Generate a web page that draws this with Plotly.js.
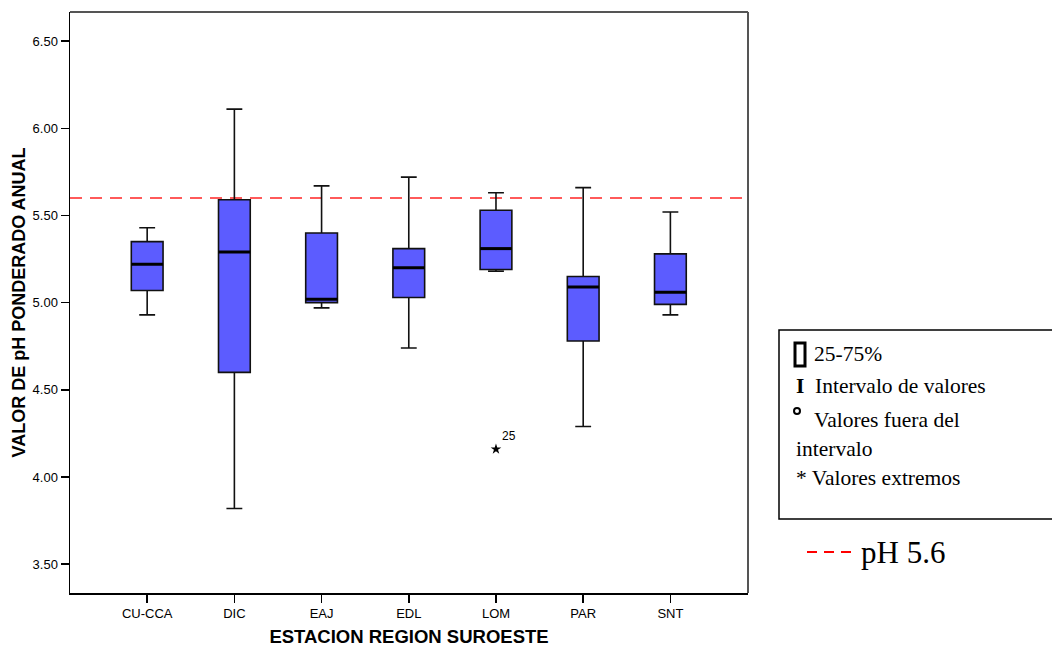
<!DOCTYPE html>
<html>
<head>
<meta charset="utf-8">
<script src="https://cdn.plot.ly/plotly-3.0.1.min.js"></script>
<style>html,body{margin:0;padding:0;background:#fff;}#chart{width:1052px;height:647px;}</style>
</head>
<body>
<div id="chart"></div>
<script>
// Data
const stations = ["CU-CCA", "DIC", "EAJ", "EDL", "LOM", "PAR", "SNT"];
const lowerWhisker = [4.93, 3.82, 4.97, 4.74, 5.18, 4.29, 4.93];
const q1Values     = [5.07, 4.60, 5.00, 5.03, 5.19, 4.78, 4.99];
const medianValues = [5.22, 5.29, 5.02, 5.20, 5.31, 5.09, 5.06];
const q3Values     = [5.35, 5.59, 5.40, 5.31, 5.53, 5.15, 5.28];
const upperWhisker = [5.43, 6.11, 5.67, 5.72, 5.63, 5.66, 5.52];
const extremeStation = ["LOM"];
const extremeValue = [4.16];
const extremeLabel = ["25"];
const referencePH = 5.6;

const idx = stations.map((s, i) => i);
const boxWidth = 0.364;

// median overlay segments (thicker median line)
const medX = [], medY = [];
idx.forEach(i => {
  medX.push(i - boxWidth / 2, i + boxWidth / 2, null);
  medY.push(medianValues[i], medianValues[i], null);
});

const traces = [
  {
    type: "box",
    x: idx,
    q1: q1Values,
    median: medianValues,
    q3: q3Values,
    lowerfence: lowerWhisker,
    upperfence: upperWhisker,
    width: boxWidth,
    whiskerwidth: 0.5,
    boxpoints: false,
    fillcolor: "#5c5cff",
    line: { color: "#111111", width: 1.6 },
    hoverinfo: "skip",
    showlegend: false
  },
  {
    type: "scatter",
    mode: "lines",
    x: medX,
    y: medY,
    line: { color: "#000000", width: 3 },
    hoverinfo: "skip",
    showlegend: false
  },
  {
    type: "scatter",
    mode: "markers+text",
    x: extremeStation.map(s => stations.indexOf(s)),
    y: extremeValue,
    text: extremeLabel,
    textposition: "top right",
    textfont: { family: "Liberation Sans, Arial, sans-serif", size: 12, color: "#000" },
    marker: { symbol: "star", size: 8, color: "#000" },
    hoverinfo: "skip",
    showlegend: false
  }
];

// pixel -> paper helpers for decorative legend layout
const L = 70, R = 748, T = 12, B = 593;
const px = v => (v - L) / (R - L);
const py = v => (B - v) / (B - T);

const serif = "Liberation Serif, Times New Roman, serif";
const sans = "Liberation Sans, Arial, sans-serif";

const layout = {
  width: 1052,
  height: 647,
  margin: { l: L, r: 1052 - R, t: T, b: 647 - B },
  paper_bgcolor: "#ffffff",
  plot_bgcolor: "#ffffff",
  showlegend: false,
  xaxis: {
    range: [-0.885, 6.89],
    tickmode: "array",
    tickvals: idx,
    ticktext: stations,
    ticks: "outside",
    ticklen: 8,
    tickwidth: 1.5,
    tickcolor: "#000",
    showline: true,
    linecolor: "#000",
    linewidth: 1.5,
    showgrid: false,
    zeroline: false,
    tickfont: { family: sans, size: 13, color: "#000" },
    title: {
      text: "<b>ESTACION REGION SUROESTE</b>",
      font: { family: sans, size: 18.5, color: "#000" },
      standoff: 14
    }
  },
  yaxis: {
    range: [3.335, 6.667],
    tick0: 3.5,
    dtick: 0.5,
    tickformat: ".2f",
    ticks: "outside",
    ticklen: 8,
    tickwidth: 1.5,
    tickcolor: "#000",
    showline: true,
    linecolor: "#000",
    linewidth: 1.5,
    showgrid: false,
    zeroline: false,
    tickfont: { family: sans, size: 13, color: "#000" },
    title: {
      text: "<b>VALOR DE pH PONDERADO ANUAL</b>",
      font: { family: sans, size: 18, color: "#000" },
      standoff: 2
    }
  },
  shapes: [
    // reference pH line
    { type: "line", xref: "paper", x0: 0, x1: 1, yref: "y", y0: referencePH, y1: referencePH,
      line: { color: "#ff5a5a", width: 2, dash: "12px,8px" }, layer: "below" },
    // top and right frame
    { type: "line", xref: "paper", yref: "paper", x0: 0, x1: 1, y0: 1, y1: 1, line: { color: "#555", width: 2 } },
    { type: "line", xref: "paper", yref: "paper", x0: 1, x1: 1, y0: 0, y1: 1, line: { color: "#555", width: 2 } },
    // legend box
    { type: "rect", xref: "paper", yref: "paper", x0: px(779), x1: px(1062), y0: py(519), y1: py(330),
      line: { color: "#000", width: 1.5 }, fillcolor: "rgba(0,0,0,0)" },
    // box icon
    { type: "rect", xref: "paper", yref: "paper", x0: px(795), x1: px(805), y0: py(366), y1: py(343),
      line: { color: "#000", width: 3 }, fillcolor: "rgba(0,0,0,0)" },
    // outlier circle icon
    { type: "circle", xref: "paper", yref: "paper", x0: px(794), x1: px(800), y0: py(414), y1: py(408),
      line: { color: "#000", width: 2 } },
    // pH 5.6 legend dashes
    { type: "line", xref: "paper", yref: "paper", x0: px(807), x1: px(852), y0: py(552), y1: py(552),
      line: { color: "#ff0000", width: 2, dash: "10px,7px" } }
  ],
  annotations: [
    { xref: "paper", yref: "paper", x: px(812), y: py(354), xanchor: "left", yanchor: "middle", showarrow: false,
      text: "25-75%", font: { family: serif, size: 21.5, color: "#000" } },
    { xref: "paper", yref: "paper", x: px(794), y: py(386), xanchor: "left", yanchor: "middle", showarrow: false,
      text: "<b>I</b>", font: { family: serif, size: 21.5, color: "#000" } },
    { xref: "paper", yref: "paper", x: px(813), y: py(386), xanchor: "left", yanchor: "middle", showarrow: false,
      text: "Intervalo de valores", font: { family: serif, size: 21.5, color: "#000" } },
    { xref: "paper", yref: "paper", x: px(812), y: py(420), xanchor: "left", yanchor: "middle", showarrow: false,
      text: "Valores fuera del", font: { family: serif, size: 21.5, color: "#000" } },
    { xref: "paper", yref: "paper", x: px(794), y: py(449), xanchor: "left", yanchor: "middle", showarrow: false,
      text: "intervalo", font: { family: serif, size: 21.5, color: "#000" } },
    { xref: "paper", yref: "paper", x: px(794), y: py(478), xanchor: "left", yanchor: "middle", showarrow: false,
      text: "* Valores extremos", font: { family: serif, size: 21.5, color: "#000" } },
    { xref: "paper", yref: "paper", x: px(859), y: py(552), xanchor: "left", yanchor: "middle", showarrow: false,
      text: "pH 5.6", font: { family: serif, size: 31, color: "#000" } }
  ]
};

Plotly.newPlot("chart", traces, layout, { displayModeBar: false, staticPlot: true });
</script>
</body>
</html>
